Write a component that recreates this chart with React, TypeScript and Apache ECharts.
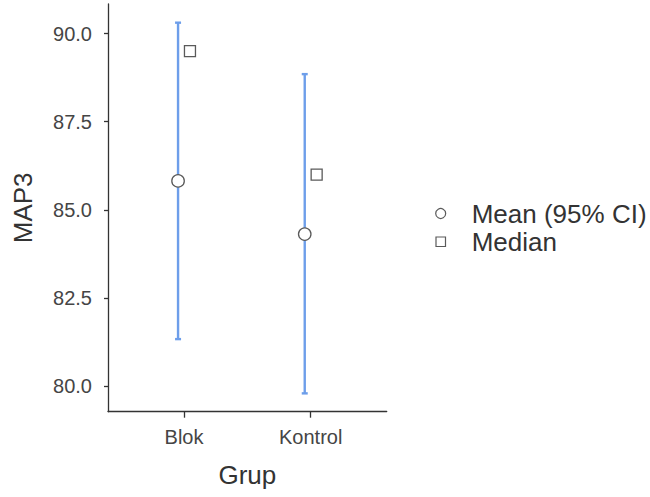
import React, { useEffect, useRef } from "react";
import * as echarts from "echarts";

const categories = ["Blok", "Kontrol"];
const meanValues = [85.82, 84.31];
const ciLower = [81.33, 79.79];
const ciUpper = [90.31, 88.85];
const medianValues = [89.5, 86.0];
const yTicks = [80, 82.5, 85, 87.5, 90];

const FONT = "'Liberation Sans', Arial, sans-serif";
const TEXT_COLOR = "#454545";
const AXIS_COLOR = "#333";
const BAR_COLOR = "#6d9eea";
const POINT_STROKE = "#5a5a5a";

export default function App() {
  const ref = useRef<HTMLDivElement>(null);

  useEffect(() => {
    if (!ref.current) return;
    const chart = echarts.init(ref.current, undefined, { renderer: "svg" });
    const offset = 0.047;
    const xs = categories.map((_, i) => i + 1);

    const option: any = {
      animation: false,
      backgroundColor: "#fff",
      grid: { left: 108, right: 263.3, top: 4, bottom: 85.3 },
      xAxis: {
        type: "value",
        min: 0.4,
        max: 2.6,
        name: "Grup",
        nameLocation: "middle",
        nameGap: 50,
        nameTextStyle: { fontFamily: FONT, fontSize: 26, color: AXIS_COLOR },
        axisLine: { show: true, onZero: false, lineStyle: { color: AXIS_COLOR, width: 1.3 } },
        axisTick: { show: true, customValues: xs, length: 6, lineStyle: { color: AXIS_COLOR, width: 1.3 } },
        axisLabel: {
          customValues: xs,
          margin: 15,
          fontFamily: FONT,
          fontSize: 20,
          color: TEXT_COLOR,
          formatter: (v: number) => categories[Math.round(v) - 1] ?? "",
        },
        splitLine: { show: false },
      },
      yAxis: {
        type: "value",
        min: 79.27,
        max: 90.84,
        name: "MAP3",
        nameLocation: "middle",
        nameGap: 72,
        nameTextStyle: { fontFamily: FONT, fontSize: 26, color: AXIS_COLOR },
        axisLine: { show: true, onZero: false, lineStyle: { color: AXIS_COLOR, width: 1.3 } },
        axisTick: { show: true, customValues: yTicks, length: 4, lineStyle: { color: AXIS_COLOR, width: 1.3 } },
        axisLabel: {
          customValues: yTicks,
          margin: 16,
          fontFamily: FONT,
          fontSize: 20,
          color: TEXT_COLOR,
          formatter: (v: number) => v.toFixed(1),
        },
        splitLine: { show: false },
      },
      series: [
        {
          type: "custom",
          name: "CI",
          data: xs.map((x, i) => [x - offset, ciLower[i], ciUpper[i]]),
          encode: { x: 0, y: [1, 2] },
          renderItem: (params: any, api: any) => {
            const x = api.value(0);
            const lo = api.coord([x, api.value(1)]);
            const hi = api.coord([x, api.value(2)]);
            const style = { stroke: BAR_COLOR, lineWidth: 2.4 };
            const cap = 3;
            return {
              type: "group",
              children: [
                { type: "line", shape: { x1: lo[0], y1: lo[1], x2: hi[0], y2: hi[1] }, style },
                { type: "line", shape: { x1: lo[0] - cap, y1: lo[1], x2: lo[0] + cap, y2: lo[1] }, style },
                { type: "line", shape: { x1: hi[0] - cap, y1: hi[1], x2: hi[0] + cap, y2: hi[1] }, style },
              ],
            };
          },
          z: 1,
        },
        {
          type: "scatter",
          name: "Mean (95% CI)",
          symbol: "circle",
          symbolSize: 12.5,
          data: xs.map((x, i) => [x - offset, meanValues[i]]),
          itemStyle: { color: "#fff", borderColor: POINT_STROKE, borderWidth: 1.3, opacity: 1 },
          z: 3,
        },
        {
          type: "scatter",
          name: "Median",
          symbol: "rect",
          symbolSize: 11,
          data: xs.map((x, i) => [x + offset, medianValues[i]]),
          itemStyle: { color: "#fff", borderColor: POINT_STROKE, borderWidth: 1.3, opacity: 1 },
          z: 3,
        },
      ],
      graphic: [
        {
          type: "circle",
          shape: { cx: 440.7, cy: 213.5, r: 5 },
          style: { fill: "#fff", stroke: POINT_STROKE, lineWidth: 1.2 },
        },
        {
          type: "rect",
          shape: { x: 436, y: 237, width: 9.5, height: 9.5 },
          style: { fill: "#fff", stroke: POINT_STROKE, lineWidth: 1.2 },
        },
        {
          type: "text",
          x: 471.7,
          y: 214,
          style: {
            text: "Mean (95% CI)",
            fontFamily: FONT,
            fontSize: 26,
            fill: AXIS_COLOR,
            verticalAlign: "middle",
            align: "left",
          },
        },
        {
          type: "text",
          x: 471.7,
          y: 241.5,
          style: {
            text: "Median",
            fontFamily: FONT,
            fontSize: 26,
            fill: AXIS_COLOR,
            verticalAlign: "middle",
            align: "left",
          },
        },
      ],
    };

    chart.setOption(option);
    return () => chart.dispose();
  }, []);

  return (
    <div
      ref={ref}
      style={{ position: "absolute", left: 0, top: 0, width: 650, height: 497 }}
    />
  );
}
